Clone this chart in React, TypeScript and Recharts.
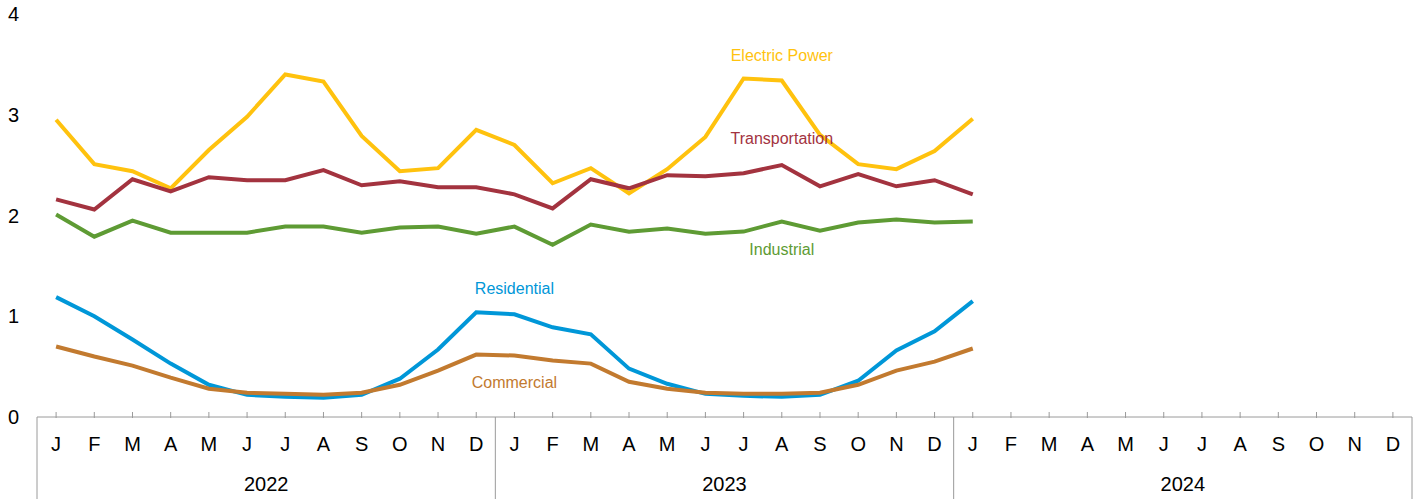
import React from 'react';
import { LineChart, Line, XAxis, YAxis, ReferenceDot } from 'recharts';

const monthLetters = ['J','F','M','A','M','J','J','A','S','O','N','D'];
const years = ['2022', '2023', '2024'];

const electricPower = [2.95,2.51,2.44,2.27,2.65,2.98,3.40,3.33,2.79,2.44,2.47,2.85,2.70,2.32,2.47,2.22,2.46,2.78,3.36,3.34,2.80,2.51,2.46,2.64,2.96];
const transportation = [2.16,2.06,2.36,2.24,2.38,2.35,2.35,2.45,2.30,2.34,2.28,2.28,2.21,2.07,2.36,2.27,2.40,2.39,2.42,2.50,2.29,2.41,2.29,2.35,2.21];
const industrial = [2.01,1.79,1.95,1.83,1.83,1.83,1.89,1.89,1.83,1.88,1.89,1.82,1.89,1.71,1.91,1.84,1.87,1.82,1.84,1.94,1.85,1.93,1.96,1.93,1.94];
const residential = [1.19,1.00,0.77,0.53,0.32,0.22,0.20,0.19,0.22,0.38,0.67,1.04,1.02,0.89,0.82,0.48,0.33,0.23,0.21,0.20,0.22,0.36,0.66,0.85,1.15];
const commercial = [0.70,0.60,0.51,0.39,0.28,0.24,0.23,0.22,0.24,0.32,0.46,0.62,0.61,0.56,0.53,0.35,0.28,0.24,0.23,0.23,0.24,0.32,0.46,0.55,0.68];

const yTicks = [0, 1, 2, 3, 4];

const series = [
  { key: 'electric', name: 'Electric Power', values: electricPower, color: '#FFC20E', labelAt: 19, labelY: 3.59 },
  { key: 'transport', name: 'Transportation', values: transportation, color: '#A3333F', labelAt: 19, labelY: 2.77 },
  { key: 'industrial', name: 'Industrial', values: industrial, color: '#5E9B34', labelAt: 19, labelY: 1.665 },
  { key: 'residential', name: 'Residential', values: residential, color: '#0097D8', labelAt: 12, labelY: 1.28 },
  { key: 'commercial', name: 'Commercial', values: commercial, color: '#C27A2F', labelAt: 12, labelY: 0.347 },
];

const allMonths = years.flatMap(() => monthLetters);
const monthTicks = allMonths.map((_, i) => i);
const yearTicks = years.map((_, i) => i * 12 + 5.5);
const sepTicks = [...years.map((_, i) => i * 12 - 0.5), years.length * 12 - 0.5];

const data = electricPower.map((_, i) => {
  const row: Record<string, number> = { idx: i };
  series.forEach((s) => { row[s.key] = s.values[i]; });
  return row;
});

const FONT = '"Liberation Sans", Arial, sans-serif';
const AXIS_COLOR = '#9a9a9a';
const domain: [number, number] = [-0.5, allMonths.length - 0.5];

const EmptyTick = () => <g />;

export default function App() {
  return (
    <div style={{ position: 'absolute', left: 0, top: 0, fontFamily: FONT }}>
      <LineChart width={1423} height={499} data={data} margin={{ top: 14, right: 11, bottom: 0, left: 0 }}>
        <XAxis
          xAxisId="a"
          dataKey="idx"
          type="number"
          domain={domain}
          ticks={sepTicks}
          interval={0}
          height={1}
          tick={EmptyTick}
          tickSize={82}
          axisLine={{ stroke: AXIS_COLOR, strokeWidth: 1 }}
          tickLine={{ stroke: AXIS_COLOR, strokeWidth: 1 }}
        />
        <XAxis
          xAxisId="b"
          dataKey="idx"
          type="number"
          domain={domain}
          ticks={monthTicks}
          interval={0}
          height={40}
          tickSize={-6}
          tickMargin={24.5}
          tickFormatter={(v: number) => allMonths[v] ?? ''}
          tick={{ fontSize: 20, fill: '#000', fontFamily: FONT }}
          axisLine={false}
          tickLine={{ stroke: AXIS_COLOR, strokeWidth: 1 }}
        />
        <XAxis
          xAxisId="c"
          dataKey="idx"
          type="number"
          domain={domain}
          ticks={yearTicks}
          interval={0}
          height={41}
          tickSize={0}
          tickMargin={18.7}
          tickFormatter={(v: number) => years[Math.round((v - 5.5) / 12)] ?? ''}
          tick={{ fontSize: 20, fill: '#000', fontFamily: FONT }}
          axisLine={false}
          tickLine={false}
        />
        <YAxis
          type="number"
          domain={[0, 4]}
          ticks={yTicks}
          width={37}
          axisLine={false}
          tickLine={false}
          tickSize={0}
          tickMargin={18}
          tick={{ fontSize: 20, fill: '#000', fontFamily: FONT }}
        />
        {series.map((s) => (
          <Line
            key={s.key}
            xAxisId="b"
            dataKey={s.key}
            type="linear"
            stroke={s.color}
            strokeWidth={4}
            dot={false}
            activeDot={false}
            isAnimationActive={false}
          />
        ))}
        {series.map((s) => (
          <ReferenceDot
            key={'lbl-' + s.key}
            xAxisId="b"
            x={s.labelAt}
            y={s.labelY}
            r={0}
            fill="none"
            stroke="none"
            label={{ value: s.name, position: 'center', fill: s.color, fontSize: 16, fontFamily: FONT }}
          />
        ))}
      </LineChart>
    </div>
  );
}
